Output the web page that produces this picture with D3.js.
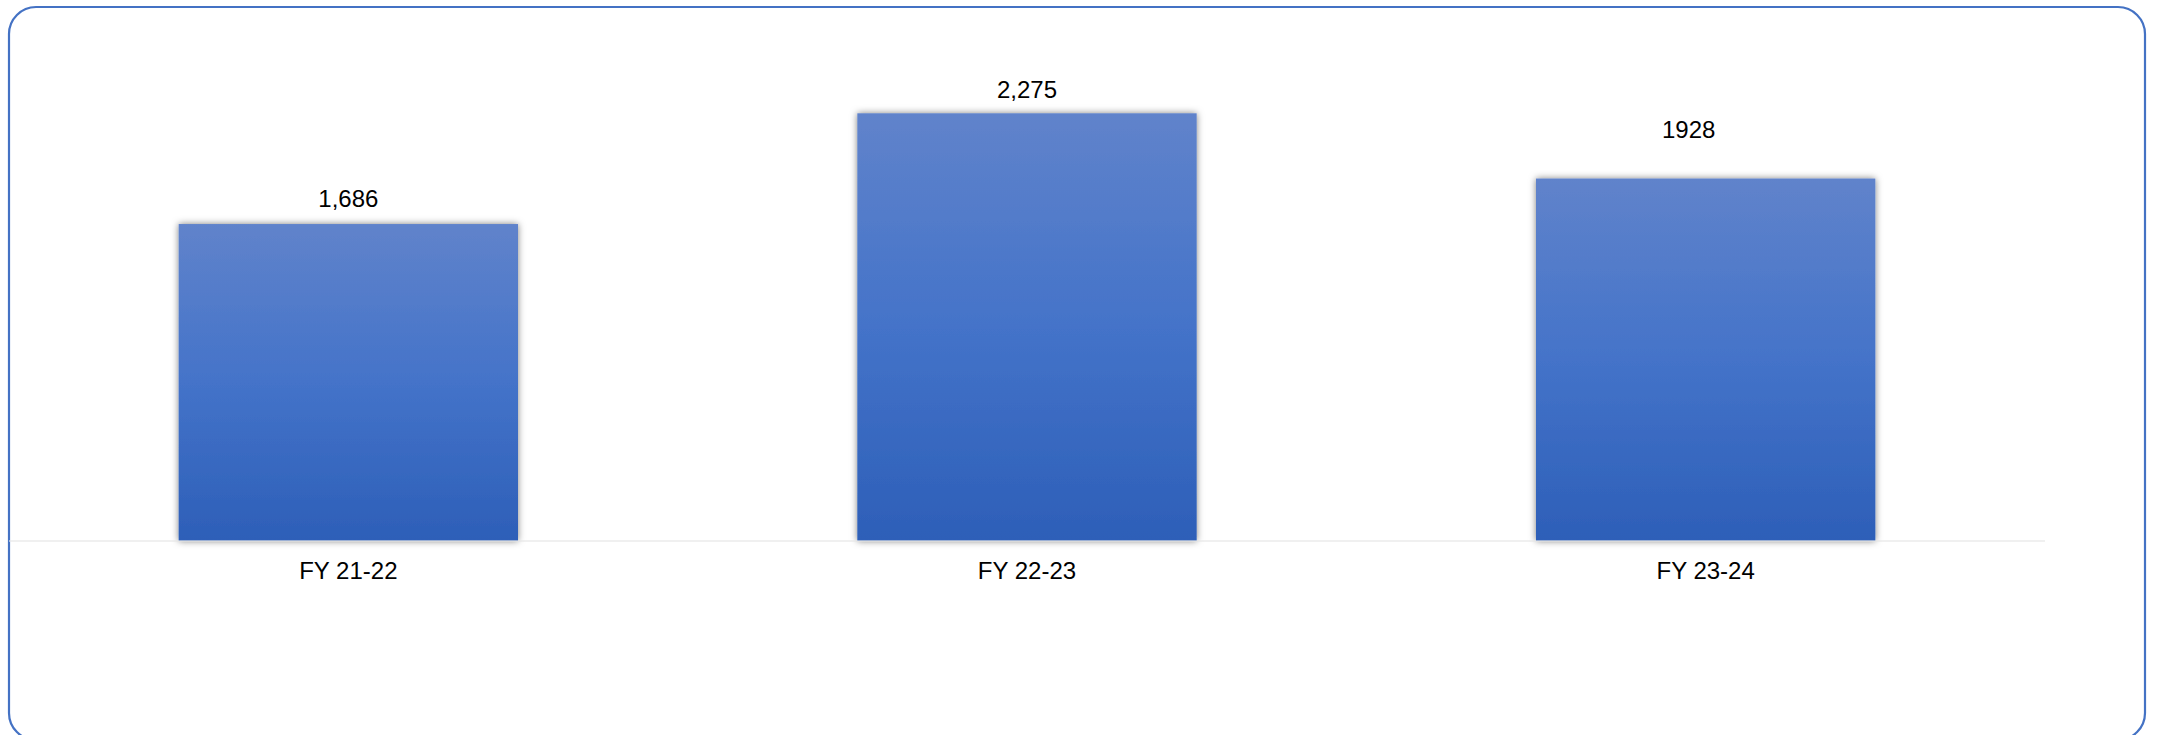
<!DOCTYPE html>
<html>
<head>
<meta charset="utf-8">
<script src="https://cdn.jsdelivr.net/npm/d3@7"></script>
<style>
  html, body { margin: 0; padding: 0; background: #ffffff; overflow: hidden; }
  svg { display: block; font-family: "Liberation Sans", Arial, sans-serif; }
</style>
</head>
<body>
<svg id="chart" width="2157" height="735"></svg>
<script>
const categories = ["FY 21-22", "FY 22-23", "FY 23-24"];
const values = [1686, 2275, 1928];
const valueLabels = ["1,686", "2,275", "1928"];
const labelOffsets = [0, 0, -17];   // horizontal nudge of data label
const labelLift = [17, 15, 41];     // gap between bar top and label baseline

const W = 2157, H = 735;
const svg = d3.select("#chart");

// Frame
svg.append("rect")
  .attr("x", 9).attr("y", 7)
  .attr("width", 2136).attr("height", 733)
  .attr("rx", 27).attr("ry", 27)
  .attr("fill", "#ffffff")
  .attr("stroke", "#4472C4")
  .attr("stroke-width", 2.2);

const defs = svg.append("defs");
const grad = defs.append("linearGradient")
  .attr("id", "barGrad").attr("x1", 0).attr("y1", 0).attr("x2", 0).attr("y2", 1);
grad.append("stop").attr("offset", "0%").attr("stop-color", "#6083cb");
grad.append("stop").attr("offset", "50%").attr("stop-color", "#4473c9");
grad.append("stop").attr("offset", "100%").attr("stop-color", "#2d5fb8");

const filt = defs.append("filter").attr("id", "shadow")
  .attr("x", "-10%").attr("y", "-10%").attr("width", "120%").attr("height", "120%");
filt.append("feDropShadow")
  .attr("dx", 0).attr("dy", 0).attr("stdDeviation", 3.5)
  .attr("flood-color", "#000000").attr("flood-opacity", 0.5);

const x = d3.scaleBand()
  .domain(categories)
  .range([9, 2045])
  .paddingInner(0.5)
  .paddingOuter(0.25);

const y = d3.scaleLinear()
  .domain([0, 2500])
  .range([541, 71]);

// Bars
svg.append("g").selectAll("rect")
  .data(values)
  .join("rect")
  .attr("x", (d, i) => x(categories[i]))
  .attr("y", d => y(d))
  .attr("width", x.bandwidth())
  .attr("height", d => y(0) - y(d))
  .attr("fill", "url(#barGrad)")
  .attr("filter", "url(#shadow)");

// Baseline axis
const xAxis = d3.axisBottom(x).tickSize(0).tickPadding(22);
const gx = svg.append("g")
  .attr("transform", `translate(0,${y(0)})`)
  .call(xAxis);
gx.select(".domain")
  .attr("stroke", "#e6e6e6")
  .attr("stroke-width", 2)
  .attr("d", `M9,0H2045`)
  .attr("opacity", 0.6);
gx.selectAll(".tick text")
  .attr("font-family", "'Liberation Sans', Arial, sans-serif")
  .attr("font-size", 24)
  .attr("fill", "#000000")
  .attr("dy", 0)
  .attr("y", 38);

// Data labels
svg.append("g").selectAll("text")
  .data(values)
  .join("text")
  .attr("x", (d, i) => x(categories[i]) + x.bandwidth() / 2 + labelOffsets[i])
  .attr("y", (d, i) => y(d) - labelLift[i])
  .attr("text-anchor", "middle")
  .attr("font-size", 24)
  .attr("fill", "#000000")
  .text((d, i) => valueLabels[i]);
</script>
</body>
</html>
